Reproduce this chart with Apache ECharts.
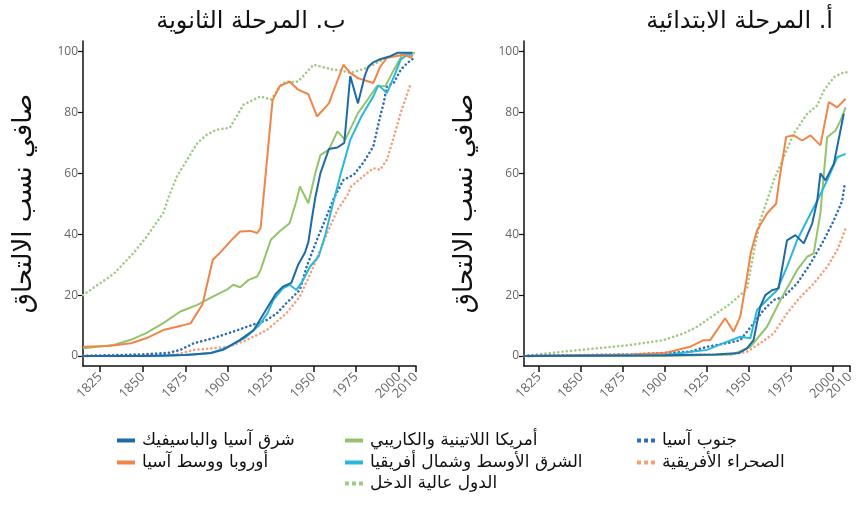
<!DOCTYPE html>
<html>
<head>
<meta charset="utf-8">
<script src="https://cdn.jsdelivr.net/npm/echarts@6/dist/echarts.min.js"></script>
<style>
html,body{margin:0;padding:0;background:#fff;}
#chart{width:860px;height:513px;}
</style>
</head>
<body>
<div id="chart"></div>
<script>
// ---- Labels ----
const titleSecondary = 'ب. المرحلة الثانوية';
const titlePrimary = 'أ. المرحلة الابتدائية';
const yAxisName = 'صافي نسب الالتحاق';
const yTicks = [0, 20, 40, 60, 80, 100];
const xTicks = [1825, 1850, 1875, 1900, 1925, 1950, 1975, 2000];
const xTicksEnd = [2010];

const nameEastAsia = 'شرق آسيا والباسيفيك';
const nameEurope = 'أوروبا ووسط آسيا';
const nameLatin = 'أمريكا اللاتينية والكاريبي';
const nameMENA = 'الشرق الأوسط وشمال أفريقيا';
const nameHighIncome = 'الدول عالية الدخل';
const nameSouthAsia = 'جنوب آسيا';
const nameSSA = 'الصحراء الأفريقية';

// ---- Secondary (left panel) : [year, value] ----
const secEastAsia = [[1815,0],[1850,0],[1875,0.3],[1890,1],[1897,2],[1907,5.3],[1915,8.5],[1922,15],[1928,20.5],[1932,22.8],[1937,24],[1941,30],[1945,34],[1947,37.5],[1949,45],[1951,52],[1954,60],[1959,68],[1964,68.5],[1968,70],[1971.5,92],[1976,83],[1980,92],[1982,95],[1985,96.5],[1989,97.5],[1995,98.5],[1999,99.6],[2008,99.6]];
const secEurope = [[1815,3],[1830,3.3],[1843,4.2],[1852,5.8],[1862,8.5],[1870,9.6],[1878,10.7],[1885,17],[1891,31.6],[1895,33.8],[1903,38.7],[1907,40.9],[1913,41.1],[1917,40.4],[1919,42],[1926,84],[1930,88.6],[1936,90.2],[1941,87.5],[1947,86],[1952,78.7],[1959,83],[1967.5,95.7],[1971.5,93],[1976,91.3],[1985,89.7],[1989,95],[1993,98],[2003,99],[2007,98],[2008,99]];
const secLatin = [[1815,2.5],[1833,3.6],[1843,5.3],[1852,7.5],[1862,10.8],[1872,14.6],[1882,16.8],[1891,19.5],[1899,21.7],[1903,23.4],[1907,22.6],[1912,25],[1917,26.1],[1919,28.3],[1925,38.2],[1930,40.9],[1936,43.6],[1940,51],[1942,55.7],[1947,50.2],[1951,60],[1954,66],[1959,67.8],[1964,73.8],[1968.5,71],[1976,79.8],[1981,83.7],[1987,88.6],[1992,88.6],[1997,94],[2002,99],[2008,99.5]];
const secMENA = [[1815,0],[1860,0],[1880,0.5],[1890,1],[1900,3],[1910,6],[1918,10],[1923,14],[1926.5,18.4],[1932,22.2],[1936,23.4],[1940,21.7],[1944,25],[1948,29.4],[1953,32.7],[1957,40],[1960,47],[1966,60],[1971.5,71],[1978,78.7],[1985,85.3],[1988,89],[1993,86.4],[1998,93],[2001,97.4],[2005,99],[2008,99]];
const secSouthAsia = [[1815,0],[1850,0.5],[1865,1],[1872,2],[1880,4.2],[1891,5.8],[1903,8],[1911,9.6],[1922.6,11.8],[1928.5,14],[1934,17.3],[1942,21.7],[1946,29.4],[1952,38.2],[1956,43.6],[1962,52],[1967.6,57.9],[1973.4,59.5],[1979,63.4],[1985,68.8],[1989,78.7],[1991,83],[1993,88.6],[1997,89.7],[2001,94],[2005,96.3],[2009,98]];
const secSSA = [[1815,0],[1870,0.5],[1880,2],[1900,3],[1910,5],[1922.6,8.5],[1934,14],[1942,19.5],[1950,29.4],[1958,40.4],[1964,48],[1970,53],[1972,55.7],[1979,59],[1985,61.7],[1989,61.2],[1993,64.5],[1997,72],[2001,79.8],[2007,89.7]];
const secHighIncome = [[1815,20],[1833,27],[1844.5,33.8],[1852,39],[1862,47],[1865,52],[1870,59],[1882,70],[1887.5,72.7],[1893,74.3],[1901,75],[1909,82.6],[1919,85.3],[1925,84.2],[1932,89.7],[1941,90.2],[1950,95.7],[1962,94],[1965,94],[1971.5,93],[1981,94.6],[1995,98.5],[2010,99.6]];

// ---- Primary (right panel) : [year, value] ----
const priEastAsia = [[1816,0],[1900,0.2],[1930,0.5],[1944,1],[1948.7,2.5],[1952.6,5.2],[1956.6,16.2],[1959.6,20],[1963.6,21.6],[1967.5,22.2],[1972.5,38],[1977.5,39.7],[1982.5,37],[1987.5,43.5],[1990.5,51],[1992.4,60],[1995.4,57.7],[2000.4,63.2],[2006.3,79.6]];
const priEurope = [[1816,0],[1860,0.3],[1880,0.5],[1900,1],[1914.8,3],[1922.8,5.2],[1926.8,5.2],[1935.7,12.4],[1940.7,8],[1944.7,12.9],[1948.7,26],[1951,34],[1954.7,41.3],[1960.6,46.8],[1966,50],[1968,58],[1972,72],[1976.5,72.5],[1981.5,70.8],[1986.5,72.5],[1992.4,69.2],[1997.4,83.4],[2002.4,81.7],[2007.4,84.5]];
const priLatin = [[1816,0],[1900,0],[1940,0.5],[1950.7,3],[1960.6,9.6],[1968.6,18.4],[1978.5,28.2],[1984.5,32.6],[1988.4,33.7],[1992.4,47],[1996.4,71.9],[2001.4,74.1],[2004.4,77.4],[2007.4,81.7]];
const priMENA = [[1816,0],[1900,0.3],[1925,2],[1934.7,4.2],[1944.7,6.3],[1950.7,5.8],[1954.7,15.1],[1960.6,18.4],[1966.6,21.6],[1972.5,29.3],[1978.5,38],[1984.5,44.6],[1990.5,51],[1996.4,57.7],[2002.4,65.3],[2007.4,66.4]];
const priSouthAsia = [[1816,0],[1880,0.5],[1900,1],[1914.8,1.4],[1924.8,3],[1936.7,4.2],[1944.7,5.2],[1952.6,10.7],[1958.6,15.1],[1964.6,18.4],[1970.5,19.4],[1978.5,23.8],[1986.5,30.4],[1994.4,38],[2000.4,44.6],[2005.4,51],[2007,57]];
const priSSA = [[1816,0],[1940,0.5],[1948.7,1.4],[1956.6,4.2],[1964.6,7.4],[1972.5,14],[1980.5,19.4],[1988.4,23.8],[1996.4,29.3],[2002.4,34.8],[2007.4,41.9]];
const priHighIncome = [[1816,0],[1839,1.4],[1859,2.5],[1879,3.6],[1899,5.2],[1911,7.4],[1919,9.6],[1929,13.4],[1939,17.3],[1948.7,22],[1952.6,33.7],[1956.6,44.6],[1960.6,51],[1964.6,57.7],[1970.5,65.3],[1976.5,73],[1984.5,79.6],[1990.5,82.3],[1994.4,87.2],[2000.4,91.6],[2006.3,93.2],[2010,93.2]];

// ---- Styling ----
const ARFONT = '"DejaVu Sans", sans-serif';
const styles = {};
styles[nameEastAsia]   = {color:'#1f6aa5', dotted:false};
styles[nameEurope]     = {color:'#f08548', dotted:false};
styles[nameLatin]      = {color:'#93c46c', dotted:false};
styles[nameMENA]       = {color:'#2bb7da', dotted:false};
styles[nameHighIncome] = {color:'#a3c987', dotted:true};
styles[nameSouthAsia]  = {color:'#2e6db3', dotted:true};
styles[nameSSA]        = {color:'#f3a07c', dotted:true};

const panels = [
  {sets:[[nameHighIncome,secHighIncome],[nameSSA,secSSA],[nameSouthAsia,secSouthAsia],[nameLatin,secLatin],[nameMENA,secMENA],[nameEurope,secEurope],[nameEastAsia,secEastAsia]], xmin:1815},
  {sets:[[nameHighIncome,priHighIncome],[nameSSA,priSSA],[nameSouthAsia,priSouthAsia],[nameLatin,priLatin],[nameMENA,priMENA],[nameEurope,priEurope],[nameEastAsia,priEastAsia]], xmin:1816}
];

const grids = [
  {left:83, top:41, width:333, height:325},
  {left:524, top:41, width:326, height:325}
];

function makeX(i, ticks, showLine){
  return {
    type:'value', gridIndex:i, min:panels[i].xmin, max:2010, position:'bottom',
    axisLine:{show:showLine, onZero:false, lineStyle:{color:'#111', width:1.5}},
    axisTick:{show:true, length:6, customValues:ticks, lineStyle:{color:'#111', width:1.5}},
    axisLabel:{customValues:ticks, rotate:45, color:'#666', fontSize:13, fontFamily:'"Open Sans", sans-serif', margin:9,
               hideOverlap:false, formatter:v=>String(v)},
    splitLine:{show:false}
  };
}
const xAxes = [makeX(0, xTicks, true), makeX(1, xTicks, true), makeX(0, xTicksEnd, false), makeX(1, xTicksEnd, false)];

const yAxes = grids.map((g,i)=>({
  type:'value', gridIndex:i, min:-3.3, max:103.5,
  name:yAxisName, nameLocation:'middle', nameGap:46, nameRotate:90,
  nameTextStyle:{fontSize:26, color:'#111', fontFamily:ARFONT},
  axisLine:{show:true, onZero:false, lineStyle:{color:'#111', width:1.5}},
  axisTick:{show:true, length:5, customValues:yTicks, lineStyle:{color:'#111', width:1.2}},
  axisLabel:{customValues:yTicks, color:'#666', fontSize:12, fontFamily:'"Open Sans", sans-serif', margin:5},
  splitLine:{show:false}
}));

const series = [];
panels.forEach((p,i)=>{
  p.sets.forEach(([name,data])=>{
    const st = styles[name];
    series.push({
      name:name, type:'line', xAxisIndex:i, yAxisIndex:i, data:data,
      symbol:'none', smooth:false, animation:false,
      itemStyle:{color:st.color},
      lineStyle: st.dotted ? {color:st.color, width:2.6, type:[0.1,4.2], cap:'round'} : {color:st.color, width:2}
    });
  });
});

const solidIcon = 'rect';
const dottedIcon = 'path://M0,0h4v4h-4zM7,0h4v4h-4zM14,0h4v4h-4z';
const legendItems = [
  [nameEastAsia, 112, 438], [nameEurope, 112, 460],
  [nameLatin, 340, 438], [nameMENA, 340, 460], [nameHighIncome, 340, 481],
  [nameSouthAsia, 632, 438], [nameSSA, 632, 460]
];
const legends = legendItems.map(([name,x,y])=>({
  data:[{name:name, icon: styles[name].dotted ? dottedIcon : solidIcon, itemStyle:{color:styles[name].color}}],
  left:x, top:y-11, orient:'horizontal',
  itemWidth:18, itemHeight:4, itemGap:5,
  textStyle:{fontSize:17, color:'#111', fontFamily:ARFONT, padding:[0,0,0,2]},
  selectedMode:false
}));

const chart = echarts.init(document.getElementById('chart'), null, {renderer:'canvas'});
chart.setOption({
  backgroundColor:'#fff',
  animation:false,
  title:[
    {text:titleSecondary, left:246, top:5, textAlign:'center', textStyle:{fontSize:24, fontWeight:'normal', color:'#111', fontFamily:ARFONT}},
    {text:titlePrimary, left:828, top:5, textAlign:'right', textStyle:{fontSize:24, fontWeight:'normal', color:'#111', fontFamily:ARFONT}}
  ],
  grid:grids,
  xAxis:xAxes,
  yAxis:yAxes,
  legend:legends,
  series:series
});
</script>
</body>
</html>
